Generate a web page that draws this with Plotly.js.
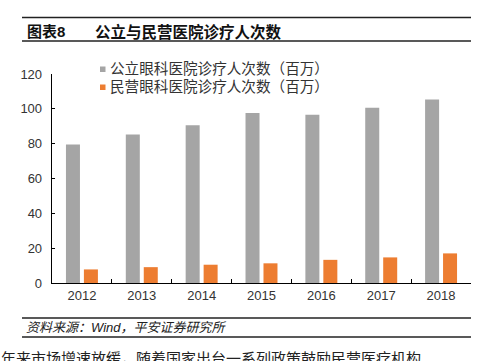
<!DOCTYPE html>
<html>
<head>
<meta charset="utf-8">
<script src="https://cdn.plot.ly/plotly-3.0.1.min.js"></script>
<style>html,body{margin:0;padding:0;background:#fff;overflow:hidden}#chart{width:482px;height:361px}</style>
</head>
<body>
<div id="chart"></div>
<script>
var years = ['2012','2013','2014','2015','2016','2017','2018'];
var publicVisits = [79.5, 85.2, 90.6, 97.6, 96.6, 100.6, 105.3];
var privateVisits = [7.8, 9.1, 10.5, 11.3, 13.3, 14.7, 17.0];
var seriesNames = ['公立眼科医院诊疗人次数（百万）', '民营眼科医院诊疗人次数（百万）'];
var yTicks = [0, 20, 40, 60, 80, 100, 120];
var chartTitle = '公立与民营医院诊疗人次数';
var chartLabel = '图表8';
var sourceText = '资料来源：Wind，平安证券研究所';
var bodyText = '年来市场增速放缓，随着国家出台一系列政策鼓励民营医疗机构';

var colors = ['#a5a5a5', '#ed7d31'];
var F = 'Arial, "Liberation Sans", "Noto Sans CJK SC", sans-serif';

// pixel helpers for paper coordinates (plot area 52..471 x 74..283)
var L = 52, R = 471, T = 74, B = 283;
function px(x){ return (x - L) / (R - L); }
function py(y){ return (B - y) / (B - T); }

var data = [
  {type:'bar', x: years, y: publicVisits, name: seriesNames[0], marker:{color: colors[0]}, hoverinfo:'none'},
  {type:'bar', x: years, y: privateVisits, name: seriesNames[1], marker:{color: colors[1]}, hoverinfo:'none'}
];

var shapes = [
  {type:'line', xref:'paper', yref:'paper', x0:px(22), x1:px(471), y0:py(17.5), y1:py(17.5), line:{color:'#222', width:1.5}},
  {type:'line', xref:'paper', yref:'paper', x0:px(22), x1:px(471), y0:py(41), y1:py(41), line:{color:'#222', width:1.5}},
  {type:'line', xref:'paper', yref:'paper', x0:px(22), x1:px(471), y0:py(318), y1:py(318), line:{color:'#222', width:1.5}},
  {type:'line', xref:'paper', yref:'paper', x0:px(22), x1:px(471), y0:py(337), y1:py(337), line:{color:'#222', width:1.5}},
  {type:'rect', xref:'paper', yref:'paper', x0:px(100), x1:px(105.5), y0:py(66.5), y1:py(72), fillcolor:colors[0], line:{width:0}},
  {type:'rect', xref:'paper', yref:'paper', x0:px(100), x1:px(105.5), y0:py(84.5), y1:py(90), fillcolor:colors[1], line:{width:0}}
];

var annotations = [
  {xref:'paper', yref:'paper', x:px(25), y:py(31.5), xanchor:'left', yanchor:'middle', showarrow:false,
   text:'<b>'+chartLabel+'</b>', font:{family:F, size:15, color:'#111'}},
  {xref:'paper', yref:'paper', x:px(93), y:py(31.5), xanchor:'left', yanchor:'middle', showarrow:false,
   text:'<b>'+chartTitle+'</b>', font:{family:F, size:15.5, color:'#111'}},
  {xref:'paper', yref:'paper', x:px(108), y:py(69), xanchor:'left', yanchor:'middle', showarrow:false,
   text:seriesNames[0], font:{family:F, size:14.6, color:'#333'}},
  {xref:'paper', yref:'paper', x:px(108), y:py(87), xanchor:'left', yanchor:'middle', showarrow:false,
   text:seriesNames[1], font:{family:F, size:14.6, color:'#333'}},
  {xref:'paper', yref:'paper', x:px(24), y:py(327.5), xanchor:'left', yanchor:'middle', showarrow:false,
   text:'<i>'+sourceText+'</i>', font:{family:F, size:13, color:'#222'}},
  {xref:'paper', yref:'paper', x:px(-1), y:py(358), xanchor:'left', yanchor:'middle', showarrow:false,
   text:bodyText, font:{family:F, size:15, color:'#222'}}
];

var layout = {
  width:482, height:361,
  margin:{l:L, r:482-R, t:T, b:361-B, pad:0},
  paper_bgcolor:'#fff', plot_bgcolor:'#fff',
  showlegend:false,
  barmode:'group', bargap:0.4, bargroupgap:0.22,
  xaxis:{type:'category', showline:true, linecolor:'#000', linewidth:1.3, showgrid:false,
         ticks:'inside', ticklen:4, tickcolor:'#000', tickwidth:1.2, tickson:'boundaries',
         tickfont:{family:F, size:13, color:'#333'}, zeroline:false, fixedrange:true},
  yaxis:{range:[0,120], tickvals:yTicks, showline:true, linecolor:'#000', linewidth:1.3, showgrid:false,
         ticks:'inside', ticklen:3, tickcolor:'#000', tickwidth:1.2, zeroline:false,
         tickfont:{family:F, size:13, color:'#333'}, ticklabelstandoff:6, fixedrange:true},
  shapes:shapes,
  annotations:annotations
};

Plotly.newPlot('chart', data, layout, {staticPlot:true, displayModeBar:false});
</script>
</body>
</html>
